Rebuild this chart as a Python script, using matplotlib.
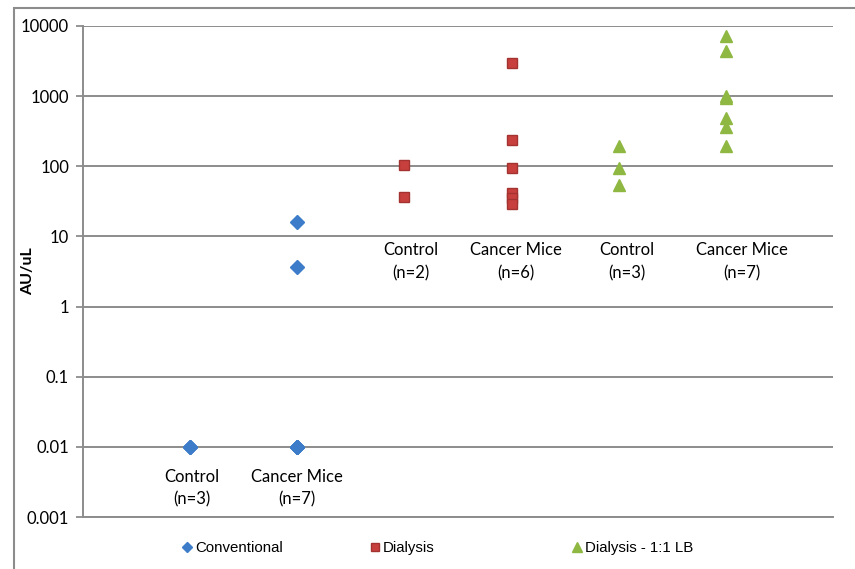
import matplotlib
matplotlib.use("Agg")
import matplotlib.pyplot as plt
from matplotlib.lines import Line2D
from matplotlib.patches import Rectangle
import numpy as np

# group positions along x and their labels
groups = ["Control\n(n=3)", "Cancer Mice\n(n=7)",
          "Control\n(n=2)", "Cancer Mice\n(n=6)",
          "Control\n(n=3)", "Cancer Mice\n(n=7)"]
group_x = [1, 2, 3, 4, 5, 6]

# AU/uL values per method
conv_x = [1, 1, 1, 2, 2, 2, 2, 2, 2, 2]
conv_y = [0.01, 0.01, 0.01, 16, 3.7, 0.01, 0.01, 0.01, 0.01, 0.01]

dial_x = [3, 3, 4, 4, 4, 4, 4, 4]
dial_y = [103, 36, 3000, 237, 93, 42, 35, 29]

lb_x = [5, 5, 5, 6, 6, 6, 6, 6, 6, 6]
lb_y = [194, 95, 54, 7300, 4450, 1000, 950, 488, 363, 194]

yticks = [0.001, 0.01, 0.1, 1, 10, 100, 1000, 10000]
ytick_labels = ["0.001", "0.01", "0.1", "1", "10", "100", "1000", "10000"]

gray = "#8c8c8c"
blue = "#3d7cc9"
red = "#c8403d"
green = "#8fb843"

fig = plt.figure(figsize=(8.55, 5.69), dpi=100)
ax = fig.add_axes([83/855, 1 - 517/569, 750/855, 491/569])

ax.plot(conv_x, conv_y, "D", color=blue, markersize=7, linestyle="none",
        label="Conventional", zorder=3)
ax.plot(dial_x, dial_y, "s", color=red, markeredgecolor="#a33331",
        markersize=7.5, linestyle="none", label="Dialysis", zorder=3)
ax.plot(lb_x, lb_y, "^", color=green, markersize=8, linestyle="none",
        label="Dialysis - 1:1 LB", zorder=3)

ax.set_yscale("log")
ax.set_ylim(0.001, 10000)
ax.set_xlim(0, 7)
ax.set_yticks(yticks)
ax.set_yticklabels(ytick_labels, fontfamily="Lato", fontsize=12)
ax.yaxis.set_minor_locator(matplotlib.ticker.NullLocator())
ax.set_xticks([])
ax.tick_params(axis="y", length=5, width=1.3, color=gray, pad=5)
ax.grid(axis="y", color=gray, linewidth=1.4)
ax.set_axisbelow(True)
for side in ["top", "right"]:
    ax.spines[side].set_visible(False)
for side in ["left", "bottom"]:
    ax.spines[side].set_color(gray)
    ax.spines[side].set_linewidth(1.4)

ax.set_ylabel("AU/uL", fontfamily="Lato", fontweight="bold", fontsize=11.5)
ax.yaxis.set_label_coords(-48/750, 0.5)

# group labels: first two sit below the 0.01 line, the rest below 10
label_y = [0.0048, 0.0048, 8.2, 8.2, 8.2, 8.2]
label_dx = [0.02, 0.0, 0.06, 0.04, 0.08, 0.15]
for gx, gl, ly, dx in zip(group_x, groups, label_y, label_dx):
    ax.text(gx + dx, ly, gl, ha="center", va="top", fontfamily="Lato",
            fontsize=12, linespacing=1.5)

# outer chart frame
fig.patches.append(Rectangle((14/855, -0.05), 1.0, 1 - 8/569 + 0.05,
                             transform=fig.transFigure, fill=False,
                             edgecolor=gray, linewidth=1.5, zorder=0))

# legend entries spaced out along the bottom
handles = [
    Line2D([], [], marker="D", color=blue, linestyle="none", markersize=5.5),
    Line2D([], [], marker="s", color=red, markeredgecolor="#a33331",
           linestyle="none", markersize=6),
    Line2D([], [], marker="^", color=green, linestyle="none", markersize=7),
]
names = ["Conventional", "Dialysis", "Dialysis - 1:1 LB"]
legend_x = [182, 370, 572]
for h, n, lx in zip(handles, names, legend_x):
    fig.legend([h], [n], loc="center left",
               bbox_to_anchor=(lx/855, 1 - 548/569), frameon=False,
               handlelength=0.6, handletextpad=0.25, borderpad=0,
               borderaxespad=0, prop={"family": "Liberation Sans", "size": 10.8})

fig.savefig("out.png", dpi=100)
